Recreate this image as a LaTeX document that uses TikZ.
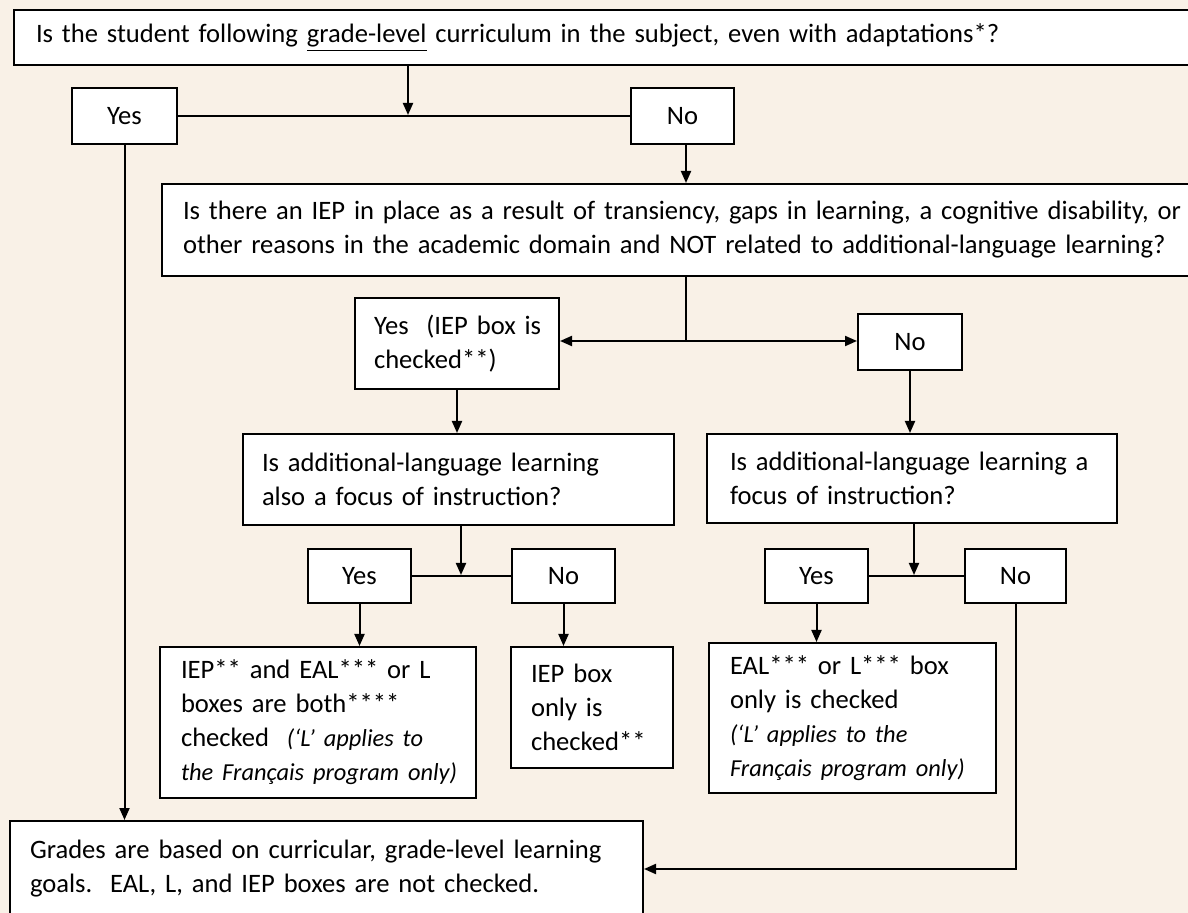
\documentclass[tikz,border=0pt]{standalone}
\usepackage{fontspec}
\setmainfont{Carlito}
\usepackage{tikz}
\usetikzlibrary{positioning, arrows.meta}
\definecolor{paper}{RGB}{249,241,231}
\newcommand{\note}[1]{{\fontsize{12.2}{17}\selectfont\itshape #1}}
\tikzset{
	box/.style={draw, fill=white, line width=1pt, anchor=north west, inner ysep=0pt, align=left, font=\fontsize{13.3}{17}\selectfont},
	ans/.style={box, align=center, inner sep=0pt},
	link/.style={line width=1pt},
	arr/.style={link, -{Triangle[length=6pt,width=5pt]}}
}

\begin{document}
\begin{tikzpicture}[x=0.5pt, y=-0.5pt]
			\path[use as bounding box, fill=paper] (0,0) rectangle (1188,913);
			\clip (0,0) rectangle (1188,913);
			% questions and answers, top to bottom
			\node[box, inner xsep=11pt, text width=573pt, minimum height=27.5pt] (q1) at (13,9) {Is the student following \underline{grade-level} curriculum in the subject, even with adaptations*?};
			\node[ans, minimum width=52.5pt, minimum height=28pt] (yes1) at (71,87) {Yes};
			\node[ans, minimum width=51.5pt, minimum height=28pt] (no1) at (630,87) {No};
			\node[box, inner xsep=10.5pt, text width=510pt, minimum height=46pt] (q2) at (161,183) {Is there an IEP in place as a result of transiency, gaps in learning, a cognitive disability, or\\other reasons in the academic domain and NOT related to additional-language learning?};
			\node[box, inner xsep=9.5pt, text width=83pt, minimum height=45.5pt] (yes2) at (354,297) {\mbox{Yes\ \ (IEP box is}\\checked**)};
			\node[ans, minimum width=52pt, minimum height=28pt] (no2) at (857,313) {No};
			\node[box, inner xsep=9.5pt, text width=196.5pt, minimum height=45.5pt] (q3l) at (242,433) {Is additional-language learning\\also a focus of instruction?};
			\node[box, inner xsep=11.5pt, text width=182pt, minimum height=44.5pt] (q3r) at (706,433) {\mbox{Is additional-language learning a}\\focus of instruction?};
			\node[ans, minimum width=51.5pt, minimum height=27pt] (yes3l) at (307,548) {Yes};
			\node[ans, minimum width=51.5pt, minimum height=27pt] (no3l) at (511,548) {No};
			\node[ans, minimum width=51.5pt, minimum height=27pt] (yes3r) at (764,548) {Yes};
			\node[ans, minimum width=50.5pt, minimum height=27pt] (no3r) at (964,548) {No};
			% outcomes
			\node[box, inner xsep=10.5pt, text width=137pt, minimum height=75.5pt] (both) at (159,646) {IEP** and EAL*** or L\\boxes are both****\\\mbox{checked\ \ \note{(‘L’ applies to}}\\\mbox{\note{the Français program only)}}};
			\node[box, inner xsep=10pt, text width=61pt, minimum height=60.5pt] (ieponly) at (510,646) {IEP box\\only is\\checked**};
			\node[box, inner xsep=10.5pt, text width=122.5pt, minimum height=75pt] (ealonly) at (708,642) {EAL*** or L*** box\\only is checked\\\mbox{\note{(‘L’ applies to the}}\\\mbox{\note{Français program only)}}};
			\node[box, inner xsep=10pt, text width=296.5pt, minimum height=48pt] (grades) at (9,820) {Grades are based on curricular, grade-level learning\\goals.\ \ EAL, L, and IEP boxes are not checked.};
			% junctions
			\coordinate (j1) at (408,115);
			\coordinate (j2) at (686,341);
			\coordinate (j3) at (461,575);
			\coordinate (j4) at (914,575);
			\draw[arr] (j1 |- q1.south) -- (j1);
			\draw[link] (yes1) -- (no1);
			\draw[arr] (j2 |- no1.south) -- (j2 |- q2.north);
			\draw[link] (j2 |- q2.south) -- (j2);
			\draw[arr] (j2) -- (j2 -| yes2.east);
			\draw[arr] (j2) -- (j2 -| no2.west);
			\draw[arr] (yes2.south) -- (yes2.south |- q3l.north);
			\draw[arr] (no2.south) -- (no2.south |- q3r.north);
			\draw[arr] (j3 |- q3l.south) -- (j3);
			\draw[link] (yes3l) -- (no3l);
			\draw[arr] (j4 |- q3r.south) -- (j4);
			\draw[link] (yes3r) -- (no3r);
			\draw[arr] (yes3l.south) -- (yes3l.south |- both.north);
			\draw[arr] (no3l.south) -- (no3l.south |- ieponly.north);
			\draw[arr] (yes3r.south) -- (yes3r.south |- ealonly.north);
			\draw[arr] (no3r.south) |- (grades.east);
			\draw[arr] (yes1.south) -- (yes1.south |- grades.north);
		\end{tikzpicture}
\end{document}
